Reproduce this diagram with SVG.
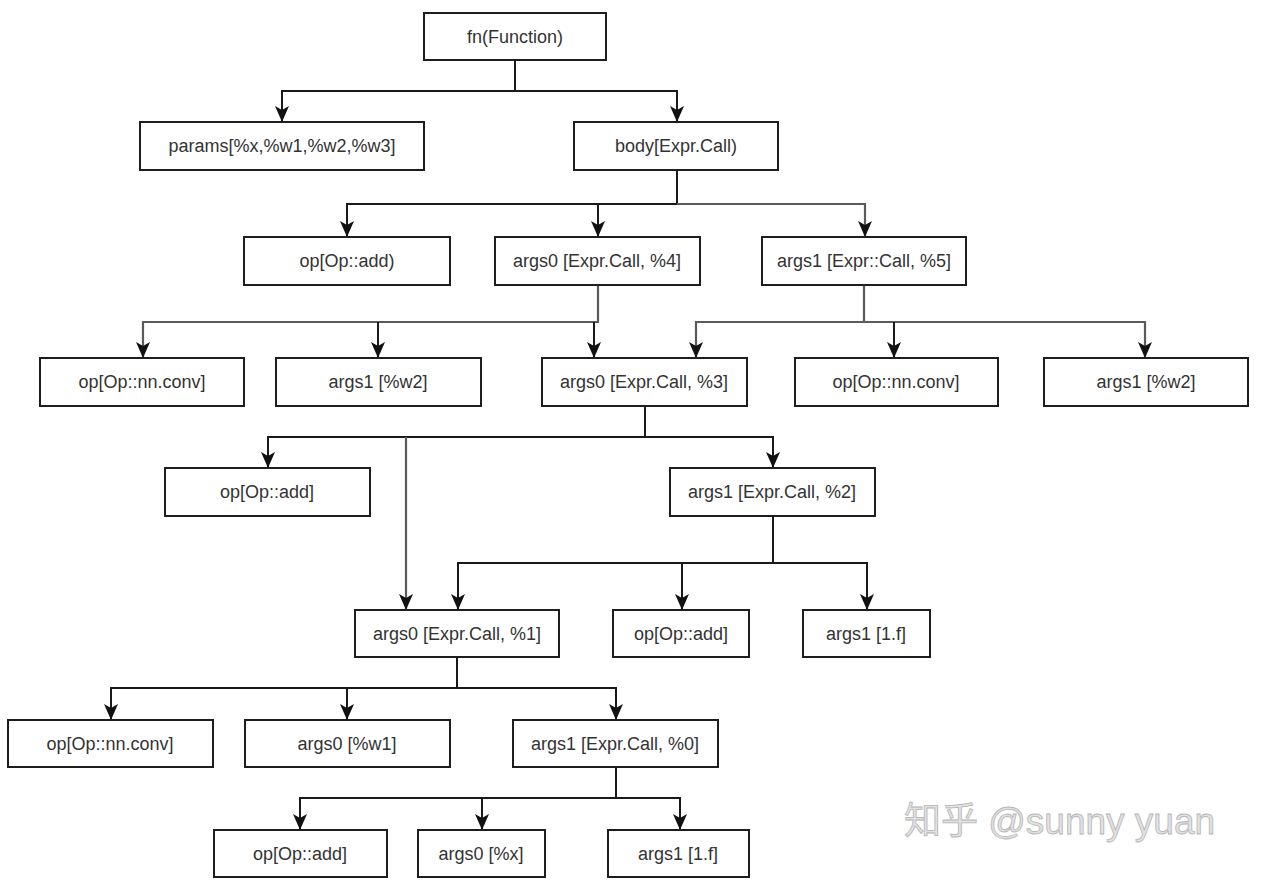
<svg xmlns="http://www.w3.org/2000/svg" width="1266" height="896" viewBox="0 0 1266 896">
<defs>
<style>
.box{fill:#fff;stroke:#1e1e1e;stroke-width:2}
.lbl{font-family:"Liberation Sans",Arial,sans-serif;font-size:18px;fill:#333;text-anchor:middle;dominant-baseline:central}
.c{fill:none;stroke:#1a1a1a;stroke-width:2}
.g{fill:none;stroke:#5a5a5a;stroke-width:2.2}
.wm{font-family:"Liberation Sans","Noto Sans CJK SC",sans-serif;font-size:37px;fill:#e2e2e2;stroke:#b5b5b5;stroke-width:0.8}
</style>
<marker id="ad" markerUnits="userSpaceOnUse" markerWidth="14" markerHeight="16" viewBox="0 0 14 16" refX="7" refY="16" orient="0">
<path d="M0,0 L7,4 L14,0 L7,16 Z" fill="#111"/>
</marker>
</defs>
<rect width="1266" height="896" fill="#fff"/>
<g id="connectors">
<path class="c" d="M515,60 V91 H282 V122" marker-end="url(#ad)"/>
<path class="c" d="M515,91 H677 V122" marker-end="url(#ad)"/>
<path class="c" d="M677,170 V204 H347 V237" marker-end="url(#ad)"/>
<path class="c" d="M598,204 V237" marker-end="url(#ad)"/>
<path class="g" d="M677,204 H865 V237" marker-end="url(#ad)"/>
<path class="g" d="M598,285 V322 H143 V358" marker-end="url(#ad)"/>
<path class="c" d="M378,322 V358" marker-end="url(#ad)"/>
<path class="c" d="M594,322 V358" marker-end="url(#ad)"/>
<path class="g" d="M864,285 V322 H696 V358" marker-end="url(#ad)"/>
<path class="g" d="M864,322 H1145 V358" marker-end="url(#ad)"/>
<path class="c" d="M894,322 V358" marker-end="url(#ad)"/>
<path class="c" d="M645,406 V437 H268 V468" marker-end="url(#ad)"/>
<path class="c" d="M645,437 H773 V468" marker-end="url(#ad)"/>
<path class="g" d="M406,437 V610" marker-end="url(#ad)"/>
<path class="c" d="M773,516 V563 H458 V610" marker-end="url(#ad)"/>
<path class="c" d="M773,563 H867 V610" marker-end="url(#ad)"/>
<path class="c" d="M682,563 V610" marker-end="url(#ad)"/>
<path class="c" d="M457,657 V688 H111 V720" marker-end="url(#ad)"/>
<path class="c" d="M457,688 H616 V720" marker-end="url(#ad)"/>
<path class="c" d="M347,688 V720" marker-end="url(#ad)"/>
<path class="c" d="M616,767 V798 H300 V830" marker-end="url(#ad)"/>
<path class="c" d="M616,798 H680 V830" marker-end="url(#ad)"/>
<path class="c" d="M482,798 V830" marker-end="url(#ad)"/>
</g>
<g id="n_fn"><rect class="box" x="424" y="13" width="182" height="47"/><text class="lbl" x="515" y="37">fn(Function)</text></g>
<g id="n_params"><rect class="box" x="140" y="122" width="284" height="48"/><text class="lbl" x="282" y="146">params[%x,%w1,%w2,%w3]</text></g>
<g id="n_body"><rect class="box" x="574" y="122" width="204" height="48"/><text class="lbl" x="676" y="146">body[Expr.Call)</text></g>
<g id="n_op1"><rect class="box" x="244" y="237" width="206" height="48"/><text class="lbl" x="347" y="261">op[Op::add)</text></g>
<g id="n_args0_4"><rect class="box" x="495" y="237" width="205" height="48"/><text class="lbl" x="597" y="261">args0 [Expr.Call, %4]</text></g>
<g id="n_args1_5"><rect class="box" x="762" y="237" width="204" height="48"/><text class="lbl" x="864" y="261">args1 [Expr::Call, %5]</text></g>
<g id="n_conv1"><rect class="box" x="40" y="358" width="204" height="48"/><text class="lbl" x="142" y="382">op[Op::nn.conv]</text></g>
<g id="n_w2a"><rect class="box" x="276" y="358" width="205" height="48"/><text class="lbl" x="378" y="382">args1 [%w2]</text></g>
<g id="n_args0_3"><rect class="box" x="542" y="358" width="205" height="48"/><text class="lbl" x="644" y="382">args0 [Expr.Call, %3]</text></g>
<g id="n_conv2"><rect class="box" x="795" y="358" width="203" height="48"/><text class="lbl" x="896" y="382">op[Op::nn.conv]</text></g>
<g id="n_w2b"><rect class="box" x="1044" y="358" width="204" height="48"/><text class="lbl" x="1146" y="382">args1 [%w2]</text></g>
<g id="n_add2"><rect class="box" x="165" y="468" width="205" height="48"/><text class="lbl" x="267" y="492">op[Op::add]</text></g>
<g id="n_args1_2"><rect class="box" x="670" y="468" width="205" height="48"/><text class="lbl" x="772" y="492">args1 [Expr.Call, %2]</text></g>
<g id="n_args0_1"><rect class="box" x="355" y="610" width="204" height="47"/><text class="lbl" x="457" y="634">args0 [Expr.Call, %1]</text></g>
<g id="n_add3"><rect class="box" x="613" y="610" width="136" height="47"/><text class="lbl" x="681" y="634">op[Op::add]</text></g>
<g id="n_f1"><rect class="box" x="803" y="610" width="127" height="47"/><text class="lbl" x="866" y="634">args1 [1.f]</text></g>
<g id="n_conv3"><rect class="box" x="8" y="720" width="205" height="47"/><text class="lbl" x="110" y="744">op[Op::nn.conv]</text></g>
<g id="n_w1"><rect class="box" x="245" y="720" width="205" height="47"/><text class="lbl" x="347" y="744">args0 [%w1]</text></g>
<g id="n_args1_0"><rect class="box" x="513" y="720" width="205" height="47"/><text class="lbl" x="615" y="744">args1 [Expr.Call, %0]</text></g>
<g id="n_add4"><rect class="box" x="214" y="830" width="173" height="47"/><text class="lbl" x="300" y="854">op[Op::add]</text></g>
<g id="n_x"><rect class="box" x="418" y="830" width="127" height="47"/><text class="lbl" x="481" y="854">args0 [%x]</text></g>
<g id="n_f2"><rect class="box" x="608" y="830" width="141" height="47"/><text class="lbl" x="678" y="854">args1 [1.f]</text></g>
<g id="watermark"><text class="wm" x="904" y="834">知乎 @sunny yuan</text></g>
</svg>
